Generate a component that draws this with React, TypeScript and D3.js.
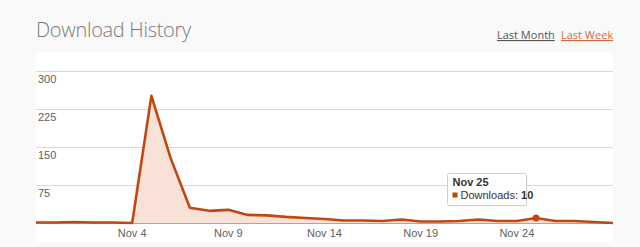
import React from "react";
import * as d3 from "d3";

const dates = [
  "2013-10-30","2013-10-31","2013-11-01","2013-11-02","2013-11-03","2013-11-04",
  "2013-11-05","2013-11-06","2013-11-07","2013-11-08","2013-11-09","2013-11-10",
  "2013-11-11","2013-11-12","2013-11-13","2013-11-14","2013-11-15","2013-11-16",
  "2013-11-17","2013-11-18","2013-11-19","2013-11-20","2013-11-21","2013-11-22",
  "2013-11-23","2013-11-24","2013-11-25","2013-11-26","2013-11-27","2013-11-28",
  "2013-11-29",
];
const downloads = [
  1, 1, 2, 1, 1, 0,
  251, 128, 30, 24, 26, 16,
  15, 12, 10, 8, 5, 5,
  4, 7, 3, 3, 4, 7,
  4, 4, 10, 4, 4, 2,
  0,
];
const yTicks = [75, 150, 225, 300];
const xTickDates = ["2013-11-04","2013-11-09","2013-11-14","2013-11-19","2013-11-24"];
const hoverIndex = 26;

export default function App() {
  const W = 640, H = 247;
  const left = 36, right = 613, top = 52, bottom = 242;
  const plotTop = 71, plotBottom = 223;
  const parse = d3.utcParse("%Y-%m-%d");
  const pts = dates.map((d, i) => ({ date: parse(d)!, v: downloads[i] }));
  const x = d3.scaleUtc().domain(d3.extent(pts, p => p.date) as [Date, Date]).range([left, right]);
  const y = d3.scaleLinear().domain([0, 300]).range([plotBottom, plotTop]);
  const line = d3.line<any>().x(p => x(p.date)).y(p => y(p.v));
  const area = d3.area<any>().x(p => x(p.date)).y0(y(0)).y1(p => y(p.v));
  const fmt = d3.utcFormat("%b %-d");
  const hp = pts[hoverIndex];
  const axisFont = "'Liberation Sans', Arial, sans-serif";
  const tipX = 447.5, tipY = 173.5, tipW = 79, tipH = 32;

  return (
    <svg width={W} height={H} style={{ position: "absolute", left: 0, top: 0 }}>
      <rect x={0} y={0} width={W} height={H} fill="#f9f9f9" />
      <text x={36} y={36.5} fontFamily="'Open Sans', sans-serif" fontWeight={300} fontSize={20} letterSpacing={-0.3} fill="#7a7a7a">
        Download History
      </text>
      <text x={497} y={39} fontFamily="'Open Sans', sans-serif" fontSize={11} fill="#555" textDecoration="underline">
        Last Month
      </text>
      <text x={561} y={39} fontFamily="'Open Sans', sans-serif" fontSize={11} fill="#d9683b" textDecoration="underline">
        Last Week
      </text>
      <rect x={left} y={top} width={right - left} height={bottom - top} fill="#ffffff" />
      {yTicks.map(t => (
        <g key={t}>
          <line x1={left} x2={right} y1={y(t) + 0.5} y2={y(t) + 0.5} stroke="#d8d8d8" strokeWidth={1} />
          <text x={38} y={y(t) + 12} fontFamily={axisFont} fontSize={11} fill="#606060">{t}</text>
        </g>
      ))}
      <path d={area(pts) || ""} fill="#f8e1d7" />
      <line x1={left} x2={right} y1={plotBottom + 0.5} y2={plotBottom + 0.5} stroke="#a8a8a8" strokeWidth={1} />
      <path d={line(pts) || ""} fill="none" stroke="#c2470f" strokeWidth={2.6} strokeLinejoin="round" />
      <circle cx={x(hp.date)} cy={y(hp.v)} r={3.5} fill="#c2470f" />
      {xTickDates.map(d => {
        const dt = parse(d)!;
        return (
          <text key={d} x={x(dt)} y={237} textAnchor="middle" fontFamily={axisFont} fontSize={11} fill="#606060">
            {fmt(dt)}
          </text>
        );
      })}
      <g>
        <rect x={tipX + 1} y={tipY + 1} width={tipW} height={tipH} rx={2} fill="rgba(0,0,0,0.06)" />
        <rect x={tipX} y={tipY} width={tipW} height={tipH} rx={2} fill="rgba(255,255,255,0.95)" stroke="#cfcfcf" strokeWidth={1} />
        <text x={tipX + 5} y={tipY + 12} fontFamily={axisFont} fontSize={11} fontWeight="bold" fill="#333">
          {fmt(hp.date)}
        </text>
        <rect x={tipX + 5} y={tipY + 19} width={5} height={5} fill="#c2470f" />
        <text x={tipX + 13} y={tipY + 25} fontFamily={axisFont} fontSize={11} fill="#333">
          Downloads: <tspan fontWeight="bold">{hp.v}</tspan>
        </text>
      </g>
    </svg>
  );
}
